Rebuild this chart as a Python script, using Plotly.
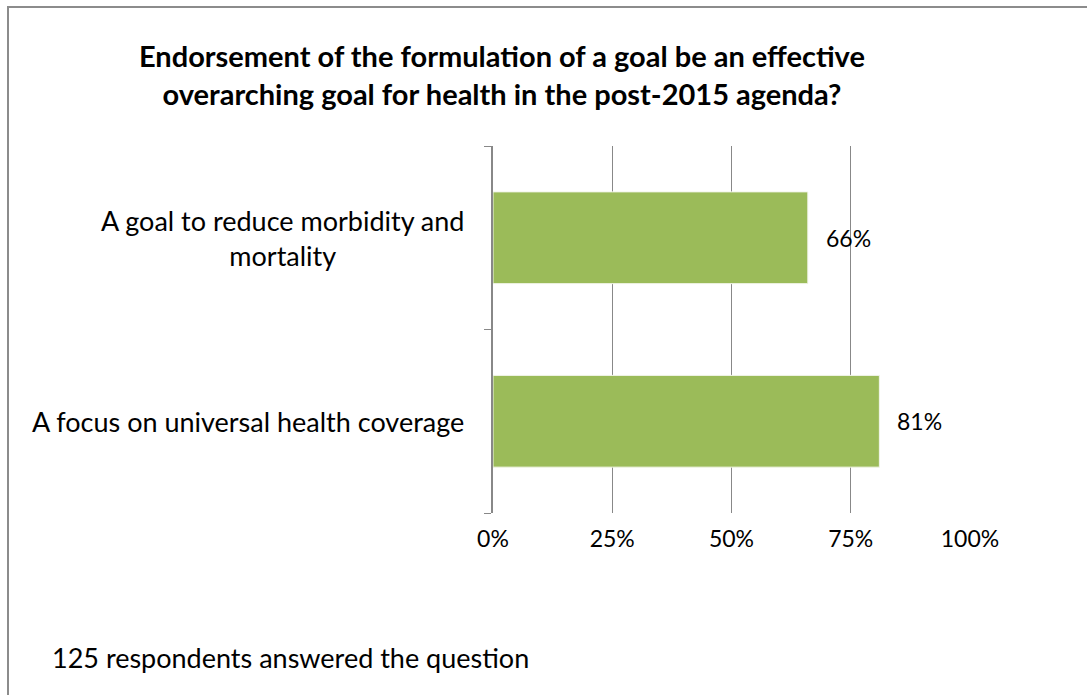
import plotly.graph_objects as go

# Survey results
categories = ["A focus on universal health coverage",
              "A goal to reduce morbidity and mortality"]
category_labels = ["A focus on universal health coverage",
                   "A goal to reduce morbidity and<br>mortality"]
shares = [81, 66]
tick_vals = [0, 25, 50, 75, 100]
tick_text = ["0%", "25%", "50%", "75%", "100%"]
title_text = ("<b>Endorsement of the formulation of a goal be an effective<br>"
              "overarching goal for health in the post-2015 agenda?</b>")
footnote = "125 respondents answered the question"

W, H = 1087, 695
L, R, T, B = 493, 970, 146, 513  # plot area in pixels

FONT = "Lato"
TEXT_SIZE = 27
NUM_SIZE = 23
BAR = "#9BBB59"
GRID = "#888888"


def px(x):
    return (x - L) / (R - L)


def py(y):
    return (B - y) / (B - T)


fig = go.Figure()
fig.add_trace(go.Bar(
    y=categories, x=shares, orientation="h",
    marker=dict(color=BAR, line=dict(color="#F2F5EA", width=1)),
    width=0.5, hoverinfo="skip",
))

# value labels beside each bar
for c, v in zip(categories, shares):
    fig.add_annotation(x=v, y=c, text=f"{v}%", showarrow=False,
                       xanchor="left", xshift=16,
                       font=dict(family=FONT, size=NUM_SIZE, color="#000000"))

# category labels, centred line by line
for c, lab in zip(categories, category_labels):
    fig.add_annotation(xref="paper", yref="y", x=px(466), y=c, text=lab,
                       showarrow=False, xanchor="right", yanchor="middle",
                       align="center",
                       font=dict(family=FONT, size=TEXT_SIZE, color="#000000"))

fig.add_annotation(xref="paper", yref="paper", x=px(137), y=py(74),
                   text=title_text, showarrow=False, xanchor="left",
                   yanchor="middle", align="center",
                   font=dict(family=FONT, size=29, color="#000000"))
fig.add_annotation(xref="paper", yref="paper", x=px(50), y=py(657),
                   text=footnote, showarrow=False, xanchor="left",
                   yanchor="middle",
                   font=dict(family=FONT, size=TEXT_SIZE, color="#000000"))

# outer frame of the chart
fig.add_shape(type="rect", xref="paper", yref="paper",
              x0=px(8), x1=px(W + 20), y0=py(7), y1=py(H + 20),
              line=dict(color="#8C8C8C", width=2), layer="below")

fig.update_layout(
    width=W, height=H,
    margin=dict(l=L, r=W - R, t=T, b=H - B, pad=0),
    paper_bgcolor="white", plot_bgcolor="white",
    showlegend=False,
    font=dict(family=FONT, size=NUM_SIZE, color="#000000"),
    xaxis=dict(range=[0, 100], tickvals=tick_vals, ticktext=tick_text,
               showgrid=True, gridcolor=GRID, gridwidth=1.3,
               zeroline=False, showline=False, ticks="",
               ticklabelstandoff=10, fixedrange=True,
               tickfont=dict(family=FONT, size=NUM_SIZE)),
    yaxis=dict(type="category", categoryorder="array",
               categoryarray=categories, range=[-0.5, 1.5],
               showline=True, linecolor=GRID, linewidth=1.5,
               ticks="outside", tickson="boundaries", ticklen=7,
               tickcolor=GRID, tickwidth=1.3,
               showticklabels=False, showgrid=False, zeroline=False,
               fixedrange=True),
)

fig.write_html("out.html")
